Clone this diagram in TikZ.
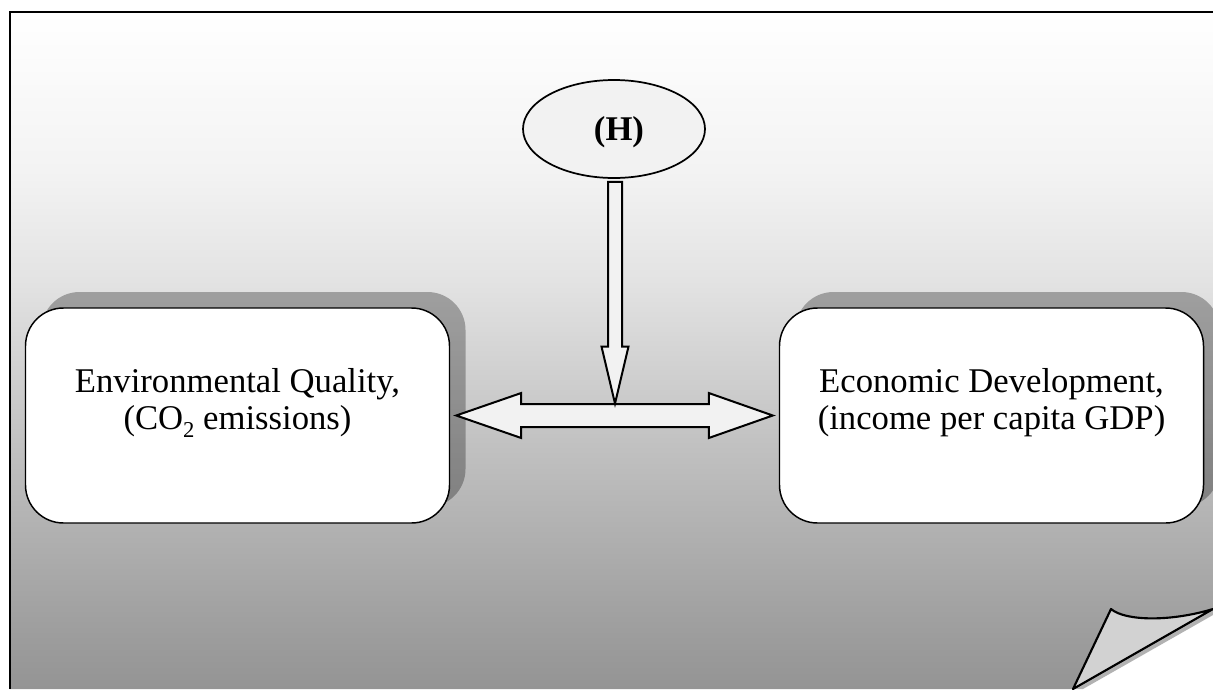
\documentclass[tikz,border=0pt]{standalone}
\usepackage{fontspec}
\setmainfont{Liberation Serif}
\usetikzlibrary{shapes.geometric,calc}
\definecolor{fillgray}{RGB}{242,242,242}
\definecolor{flapgray}{RGB}{210,210,210}
\definecolor{sA}{RGB}{148,148,148}
\definecolor{sB}{RGB}{156,156,156}
\definecolor{sC}{RGB}{192,192,192}
\definecolor{sD}{RGB}{227,227,227}
\definecolor{sE}{RGB}{243,243,243}
\pgfdeclareverticalshading{pageshade}{100bp}{color(0bp)=(sA); color(25bp)=(sA); color(28.6bp)=(sB); color(42.65bp)=(sC); color(55.2bp)=(sD); color(63.3bp)=(sE); color(75bp)=(white); color(100bp)=(white)}
\newcommand{\lowsub}[1]{\raisebox{-6pt}{\fontsize{17}{17}\selectfont #1}}
\tikzset{
  boxnode/.style={draw=black, fill=white, rounded corners=28.5pt, line width=1.1pt,
    minimum width=318pt, minimum height=161.25pt, inner sep=0pt},
  boxshadow/.style={fill=black, fill opacity=0.29, rounded corners=28.5pt,
    minimum width=318pt, minimum height=161.25pt, inner sep=0pt},
  txt/.style={font=\fontsize{26}{30}\selectfont, inner sep=0pt},
  arrowbody/.style={draw=black, fill=fillgray, line width=1.5pt, line join=miter},
  arrowshadow/.style={fill=black, fill opacity=0.22},
}
\begin{document}
\begin{tikzpicture}[x=0.75pt,y=-0.75pt]
\useasboundingbox (0,0) rectangle (1213,689);
\fill[white] (0,0) rectangle (1213,689);
% page with gradient
\shade[shading=pageshade] (10,12) -- (1213,12) -- (1213,609) -- (1073,689) -- (10,689) -- cycle;
\draw[line width=1.8pt] (10,689) -- (10,12) -- (1213,12);
% shadows of boxes
\node[boxshadow] (envsh) at (253.5,399.5) {};
\node[boxshadow] (ecosh) at (1007.5,399.5) {};
% boxes
\node[boxnode] (env) at (237.5,415.5) {};
\node[boxnode] (eco) at (991.5,415.5) {};
\node[txt, anchor=base] (envl1) at (237.5,392) {Environmental Quality,};
\node[txt, anchor=base] (envl2) at (237.5,429) {(CO\lowsub{2} emissions)};
\node[txt, anchor=base] (ecol1) at (991.5,392) {Economic Development,};
\node[txt, anchor=base] (ecol2) at (991.5,429) {(income per capita GDP)};
% ellipse H
\node[ellipse, draw=black, fill=fillgray, line width=1.3pt, minimum width=136.5pt,
  minimum height=73.5pt, inner sep=0pt] (H) at (614,129) {};
\node[txt, font=\fontsize{26}{30}\selectfont\bfseries, anchor=base] (Hl) at (619,140) {(H)};
% coordinates of the block arrows
\coordinate (vtop) at ($(H.south)+(1,3)$);
\coordinate (vtip) at (615,403.5);
\coordinate (lt) at ($(env.east)+(6,0)$);
\coordinate (rt) at ($(eco.west)+(-6,0)$);
% horizontal double arrow
\fill[arrowshadow, shift={(3,3)}] (lt) -- ($(lt)+(65,-22.5)$) -- ($(lt)+(65,-11.5)$) -- ($(rt)+(-64,-11.5)$) -- ($(rt)+(-64,-22.5)$) -- (rt) -- ($(rt)+(-64,22.5)$) -- ($(rt)+(-64,11.5)$) -- ($(lt)+(65,11.5)$) -- ($(lt)+(65,22.5)$) -- cycle;
\draw[arrowbody] (lt) -- ($(lt)+(65,-22.5)$) -- ($(lt)+(65,-11.5)$) -- ($(rt)+(-64,-11.5)$) -- ($(rt)+(-64,-22.5)$) -- (rt) -- ($(rt)+(-64,22.5)$) -- ($(rt)+(-64,11.5)$) -- ($(lt)+(65,11.5)$) -- ($(lt)+(65,22.5)$) -- cycle;
% vertical arrow
\fill[arrowshadow, shift={(3,2)}] ($(vtop)+(-7,0)$) -- ($(vtop)+(7,0)$) -- ($(vtip)+(7,-57)$) -- ($(vtip)+(13.5,-57)$) -- (vtip) -- ($(vtip)+(-13.5,-57)$) -- ($(vtip)+(-7,-57)$) -- cycle;
\draw[arrowbody] ($(vtop)+(-7,0)$) -- ($(vtop)+(7,0)$) -- ($(vtip)+(7,-57)$) -- ($(vtip)+(13.5,-57)$) -- (vtip) -- ($(vtip)+(-13.5,-57)$) -- ($(vtip)+(-7,-57)$) -- cycle;
% page curl
\fill[gray!60] (1073,689) -- (1213,609) -- (1213,615) -- (1083,689) -- cycle;
\draw[line width=1.6pt, fill=flapgray, line join=round] (1073,689) -- (1111,609) .. controls (1125,621) and (1170,622) .. (1213,609) -- cycle;
\end{tikzpicture}
\end{document}
